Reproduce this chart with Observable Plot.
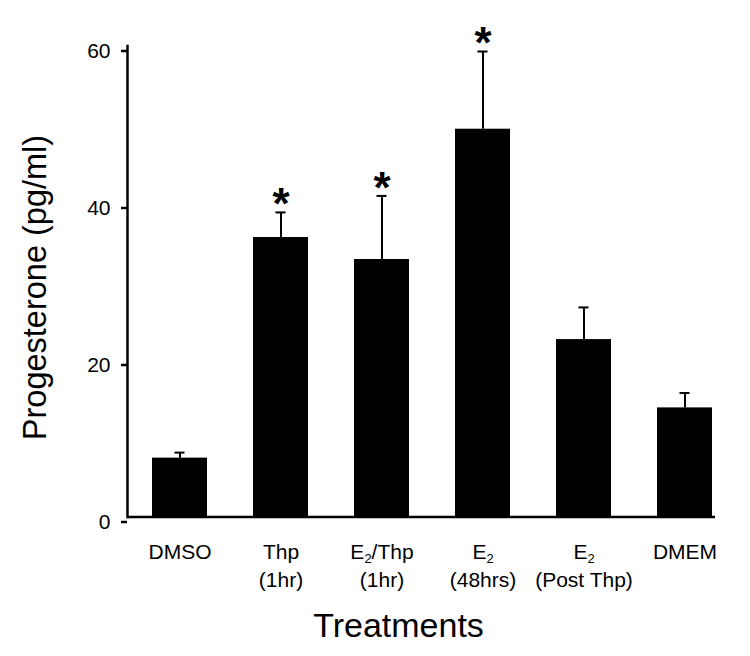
<!DOCTYPE html>
<html>
<head>
<meta charset="utf-8">
<script src="https://cdn.jsdelivr.net/npm/d3@7"></script>
<script src="https://cdn.jsdelivr.net/npm/@observablehq/plot@0.6"></script>
<style>
  html, body { margin: 0; padding: 0; background: white; }
  #chart svg { display: block; }
</style>
</head>
<body>
<div id="chart"></div>
<script>
const treatments = ["DMSO", "Thp (1hr)", "E2/Thp (1hr)", "E2 (48hrs)", "E2 (Post Thp)", "DMEM"];
const tickLabels = ["DMSO", "Thp\n(1hr)", "E2/Thp\n(1hr)", "E2\n(48hrs)", "E2\n(Post Thp)", "DMEM"];
const means = [7.5, 35.6, 32.8, 49.4, 22.6, 13.9];
const sems = [0.7, 3.2, 8.1, 9.9, 4.1, 1.9];
const significant = [false, true, true, true, false, false];
const yTicks = [0, 20, 40, 60];

const data = treatments.map((t, i) => ({t, mean: means[i], upper: means[i] + sems[i], sig: significant[i]}));

const chart = Plot.plot({
  width: 750,
  height: 656,
  marginLeft: 127,
  marginRight: 35,
  marginTop: 45.5,
  marginBottom: 139.5,
  style: {fontFamily: "'Liberation Sans', Arial, sans-serif", background: "white", color: "black", overflow: "visible"},
  x: {domain: treatments, paddingInner: 0.46, paddingOuter: 0.115, align: 0.87},
  y: {domain: [0, 60]},
  marks: [
    Plot.barY(data, {x: "t", y: "mean", fill: "black"}),
    Plot.ruleX(data, {x: "t", y1: "mean", y2: "upper", stroke: "black", strokeWidth: 2}),
    Plot.tickY(data, {x: "t", y: "upper", stroke: "black", strokeWidth: 2, insetLeft: 22.5, insetRight: 22.5}),
    Plot.text(data.filter(d => d.sig), {x: "t", y: "upper", text: () => "*", fontSize: 44, fontWeight: "bold", lineAnchor: "bottom", dy: 7}),
    Plot.axisY({ticks: yTicks, tickSize: 6, tickPadding: 11, fontSize: 21, dy: 5, label: null, strokeWidth: 2.5}),
    Plot.axisX({tickSize: 0, tickPadding: 22, fontSize: 21, lineHeight: 1.33, label: null,
      tickFormat: d => tickLabels[treatments.indexOf(d)]}),
    Plot.ruleY([0], {stroke: "black", strokeWidth: 2.5}),
    Plot.frame({anchor: "left", stroke: "black", strokeWidth: 2.5}),
    Plot.text(["Treatments"], {frameAnchor: "bottom", dx: -23, dy: 119.5, fontSize: 34, lineAnchor: "bottom", textAnchor: "middle"}),
    Plot.text(["Progesterone (pg/ml)"], {frameAnchor: "left", dx: -82, dy: 6, rotate: -90, fontSize: 32.5, lineAnchor: "bottom", textAnchor: "middle"})
  ]
});

// subscript the "2" in E2 labels
d3.select(chart).selectAll("text, tspan").each(function() {
  const el = this;
  const tn = Array.from(el.childNodes).find(n => n.nodeType === 3 && n.data.startsWith("E2"));
  if (!tn) return;
  const rest = tn.data.slice(2);
  const ns = "http://www.w3.org/2000/svg";
  const e = document.createTextNode("E");
  const sub = document.createElementNS(ns, "tspan");
  sub.setAttribute("font-size", "13");
  sub.setAttribute("baseline-shift", "-3.5");
  sub.textContent = "2";
  const r = document.createTextNode(rest);
  el.insertBefore(e, tn);
  el.insertBefore(sub, tn);
  el.insertBefore(r, tn);
  el.removeChild(tn);
});

document.getElementById("chart").appendChild(chart);
</script>
</body>
</html>
